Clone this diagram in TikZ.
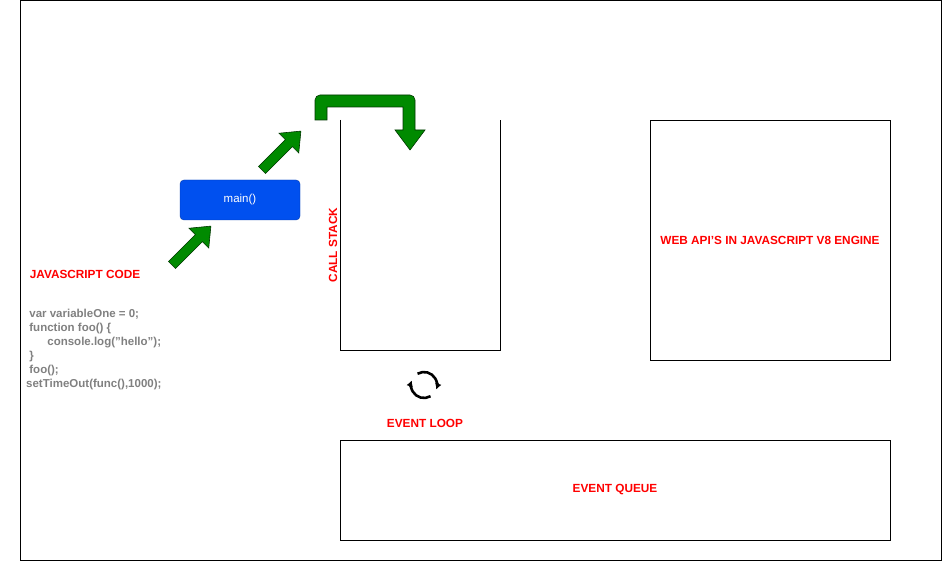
\documentclass[tikz,border=0pt]{standalone}
\usepackage{fontspec}
\setmainfont{Liberation Sans}
\usetikzlibrary{arrows.meta}
\definecolor{grn}{HTML}{008A00}
\definecolor{blu}{HTML}{0050EF}
\definecolor{code}{HTML}{808080}
\begin{document}
\begin{tikzpicture}[x=1pt,y=1pt,
  lbl/.style={text=red,font=\bfseries\fontsize{11.8}{14}\selectfont},
  box/.style={draw=black,line width=0.8pt},
  garrow/.style={fill=grn,draw=black!60!grn,line width=0.6pt}]
\useasboundingbox (0,0) rectangle (944,562);
\draw[line width=0.8pt] (20,2) rectangle (941,562);
% call stack
\coordinate (cs1) at (340,442);\coordinate (cs2) at (340,212);\coordinate (cs3) at (500,212);\coordinate (cs4) at (500,442);
\draw[box] (cs1)--(cs2)--(cs3)--(cs4);
\node[lbl,rotate=90] (cslbl) at (333,317) {CALL STACK};
\node[box,minimum width=240,minimum height=240] (web) at (770,322) {};
\node[lbl] (weblbl) at (web.center) {WEB API'S IN JAVASCRIPT V8 ENGINE};
\node[box,minimum width=550,minimum height=100] (eq) at (615,72) {};
\node[lbl] (eqlbl) at (eq.center) {EVENT QUEUE};
\node[lbl] (ellbl) at (425,139) {EVENT LOOP};
\node[lbl] (jslbl) at (85,288) {JAVASCRIPT CODE};
\node[fill=blu,draw=blu!70!black,rounded corners=4pt,minimum width=120,minimum height=40,text=white,font=\fontsize{11.5}{13}\selectfont] (main) at (240,362) {main()};
\node[anchor=north west,text=code,font=\bfseries\fontsize{11.5}{14}\selectfont,align=left,inner sep=0] (codetxt) at (26,253)
 {\ var variableOne = 0;\\\ function foo() \{\\\ \hspace{18pt}console.log("hello");\\\ \}\\\ foo();\\setTimeOut(func(),1000);};
% green arrows
\foreach \x/\y in {172/297,262/392}{
 \draw[garrow,shift={(\x,\y)},rotate=45] (0,-5)--(38,-5)--(38,-14)--(55,0)--(38,14)--(38,5)--(0,5)--cycle;}
\draw[garrow] (315,442)--(315,460) [rounded corners=5pt]--(315,467)--(415,467)[sharp corners]--(415,432)--(425,432)--(410,412)--(395,432)--(403,432)--(403,455)--(327,455)--(327,442)--cycle;
% event loop icon
\coordinate (el) at (424,177);
\draw[line width=2.6pt,-{Latex[length=6pt,width=7pt]}] ([shift={(-60:13)}]el) arc (-60:-200:13);
\draw[line width=2.6pt,-{Latex[length=6pt,width=7pt]}] ([shift={(120:13)}]el) arc (120:-20:13);
\end{tikzpicture}
\end{document}
